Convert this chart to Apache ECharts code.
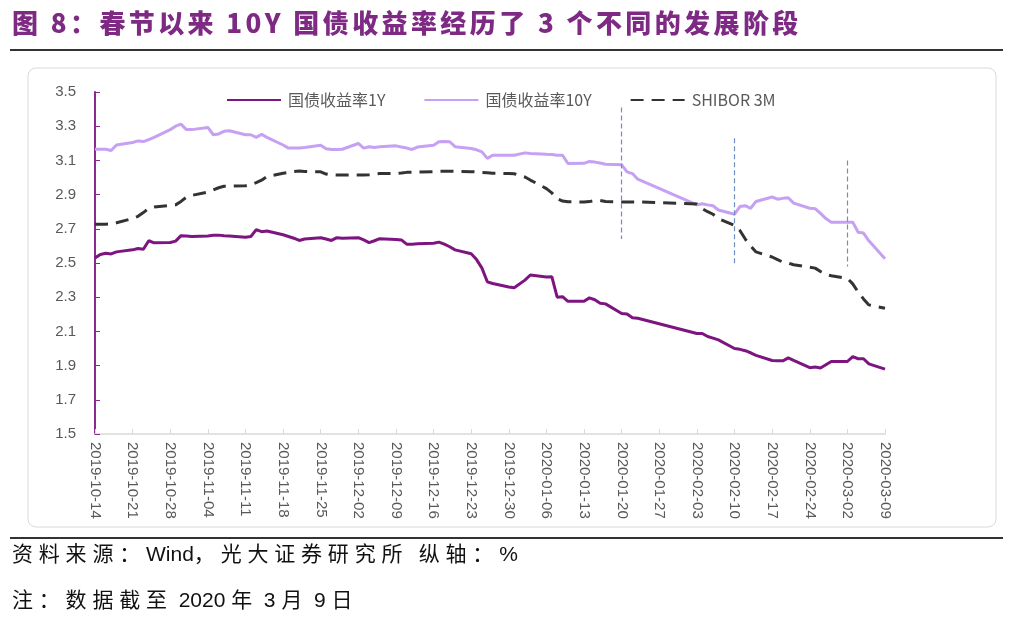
<!DOCTYPE html>
<html>
<head>
<meta charset="utf-8">
<script src="https://cdn.jsdelivr.net/npm/echarts@6/dist/echarts.min.js"></script>
<style>
  html, body { margin: 0; padding: 0; background: #fff; }
  #wrap { position: relative; width: 1015px; height: 618px; overflow: hidden; }
  #chart { position: absolute; left: 0; top: 0; width: 1015px; height: 618px; }
  .txt { position: absolute; white-space: nowrap; z-index: 2; }
  #title { left: 12px; top: 3px; font-family: "Noto Sans CJK SC", sans-serif; font-weight: 900; font-size: 26px; letter-spacing: 3.4px; color: #7e2a84; line-height: 38px; }
  #src { left: 12px; top: 537px; font-family: "Noto Sans CJK SC", "Liberation Sans", sans-serif; font-size: 21px; letter-spacing: 5.8px; color: #111; line-height: 30px; }
  #note { left: 12px; top: 583px; font-family: "Noto Sans CJK SC", "Liberation Sans", sans-serif; font-size: 21px; letter-spacing: 5.8px; color: #111; line-height: 30px; }
  .lat { font-family: "Liberation Sans", Arial, sans-serif; letter-spacing: 0; }
</style>
</head>
<body>
<div id="wrap">
  <div id="chart"></div>
  <div id="title" class="txt">图 8：春节以来 10Y 国债收益率经历了 3 个不同的发展阶段</div>
  <div id="src" class="txt">资料来源：<span class="lat">Wind</span>，光大证券研究所 纵轴：<span class="lat">%</span></div>
  <div id="note" class="txt">注：数据截至<span class="lat"> 2020 </span>年<span class="lat"> 3 </span>月<span class="lat"> 9 </span>日</div>
</div>
<script>
// ---- Data ----
const dates = [
  '2019-10-14','2019-10-15','2019-10-16','2019-10-17','2019-10-18',
  '2019-10-21','2019-10-22','2019-10-23','2019-10-24','2019-10-25',
  '2019-10-28','2019-10-29','2019-10-30','2019-10-31','2019-11-01',
  '2019-11-04','2019-11-05','2019-11-06','2019-11-07','2019-11-08',
  '2019-11-11','2019-11-12','2019-11-13','2019-11-14','2019-11-15',
  '2019-11-18','2019-11-19','2019-11-20','2019-11-21','2019-11-22',
  '2019-11-25','2019-11-26','2019-11-27','2019-11-28','2019-11-29',
  '2019-12-02','2019-12-03','2019-12-04','2019-12-05','2019-12-06',
  '2019-12-09','2019-12-10','2019-12-11','2019-12-12','2019-12-13',
  '2019-12-16','2019-12-17','2019-12-18','2019-12-19','2019-12-20',
  '2019-12-23','2019-12-24','2019-12-25','2019-12-26','2019-12-27',
  '2019-12-30','2019-12-31','2020-01-02','2020-01-03',
  '2020-01-06','2020-01-07','2020-01-08','2020-01-09','2020-01-10',
  '2020-01-13','2020-01-14','2020-01-15','2020-01-16','2020-01-17',
  '2020-01-20','2020-01-21','2020-01-22','2020-01-23',
  '2020-02-03','2020-02-04','2020-02-05','2020-02-06','2020-02-07',
  '2020-02-10','2020-02-11','2020-02-12','2020-02-13','2020-02-14',
  '2020-02-17','2020-02-18','2020-02-19','2020-02-20','2020-02-21',
  '2020-02-24','2020-02-25','2020-02-26','2020-02-27','2020-02-28',
  '2020-03-02','2020-03-03','2020-03-04','2020-03-05','2020-03-06',
  '2020-03-09'
];
const yield1Y = [
  2.53,2.55,2.557,2.553,2.565,
  2.577,2.585,2.58,2.63,2.618,
  2.62,2.628,2.66,2.658,2.655,
  2.658,2.662,2.663,2.66,2.658,
  2.65,2.655,2.695,2.683,2.687,
  2.665,2.655,2.645,2.632,2.64,
  2.648,2.64,2.632,2.648,2.645,
  2.648,2.635,2.619,2.63,2.642,
  2.638,2.635,2.61,2.61,2.612,
  2.616,2.622,2.61,2.595,2.577,
  2.554,2.52,2.47,2.39,2.38,
  2.36,2.355,2.40,2.43,
  2.418,2.42,2.30,2.303,2.276,
  2.276,2.296,2.285,2.265,2.261,
  2.205,2.202,2.18,2.177,
  2.088,2.088,2.07,2.061,2.05,
  2.0,1.995,1.987,1.975,1.96,
  1.93,1.928,1.928,1.945,1.93,
  1.888,1.892,1.886,1.905,1.924,
  1.924,1.952,1.94,1.94,1.91,
  1.879
];
const yield10Y = [
  3.165,3.165,3.165,3.158,3.19,
  3.205,3.214,3.21,3.222,3.235,
  3.28,3.30,3.312,3.28,3.28,
  3.293,3.25,3.255,3.27,3.273,
  3.25,3.25,3.235,3.252,3.235,
  3.19,3.172,3.172,3.172,3.175,
  3.188,3.168,3.164,3.164,3.165,
  3.199,3.172,3.18,3.176,3.18,
  3.185,3.178,3.172,3.164,3.178,
  3.189,3.209,3.21,3.209,3.18,
  3.17,3.162,3.15,3.112,3.13,
  3.13,3.13,3.144,3.14,
  3.136,3.135,3.13,3.13,3.082,
  3.083,3.094,3.09,3.085,3.078,
  3.074,3.033,3.023,2.99,
  2.84,2.847,2.84,2.835,2.81,
  2.785,2.83,2.835,2.82,2.86,
  2.886,2.873,2.878,2.882,2.85,
  2.82,2.818,2.79,2.76,2.739,
  2.739,2.739,2.68,2.675,2.63,
  2.525
];
const shibor3M = [
  2.726,2.726,2.727,2.728,2.735,
  2.76,2.773,2.795,2.82,2.827,
  2.837,2.84,2.86,2.885,2.895,
  2.915,2.927,2.94,2.949,2.949,
  2.952,2.958,2.97,2.984,3.005,
  3.025,3.03,3.035,3.038,3.035,
  3.033,3.02,3.015,3.014,3.014,
  3.014,3.014,3.016,3.02,3.023,
  3.023,3.026,3.03,3.03,3.032,
  3.034,3.036,3.037,3.037,3.036,
  3.034,3.033,3.03,3.028,3.025,
  3.023,3.022,3.003,2.985,
  2.935,2.91,2.876,2.862,2.858,
  2.857,2.859,2.865,2.866,2.86,
  2.857,2.857,2.857,2.857,
  2.845,2.818,2.8,2.785,2.76,
  2.72,2.69,2.64,2.6,2.565,
  2.535,2.52,2.505,2.5,2.49,
  2.475,2.47,2.45,2.433,2.425,
  2.41,2.378,2.33,2.29,2.255,
  2.235
];
const weekLabels = [
  '2019-10-14','2019-10-21','2019-10-28','2019-11-04','2019-11-11','2019-11-18',
  '2019-11-25','2019-12-02','2019-12-09','2019-12-16','2019-12-23','2019-12-30',
  '2020-01-06','2020-01-13','2020-01-20','2020-01-27','2020-02-03','2020-02-10',
  '2020-02-17','2020-02-24','2020-03-02','2020-03-09'
];
const yTicks = ['1.5','1.7','1.9','2.1','2.3','2.5','2.7','2.9','3.1','3.3','3.5'];
const seriesNames = ['国债收益率1Y','国债收益率10Y','SHIBOR 3M'];
// phase markers (vertical dashed lines)
const markerDates = ['2020-01-20','2020-02-10','2020-03-02'];
const markerTop = [3.41, 3.23, 3.10];
const markerBottom = [2.64, 2.49, 2.48];

// ---- Build ----
const DAY = 86400000;
function ts(s) { const p = s.split('-').map(Number); return Date.UTC(p[0], p[1]-1, p[2]); }
const origin = ts(weekLabels[0]);
function dayOf(s) { return Math.round((ts(s) - origin) / DAY); }
const xDays = dates.map(dayOf);
const pair = arr => arr.map((v, i) => [xDays[i], v]);
const lastDay = dayOf(weekLabels[weekLabels.length - 1]);

const markLineData = markerDates.map((d, i) => [
  { coord: [dayOf(d), markerTop[i]] },
  { coord: [dayOf(d), markerBottom[i]] }
]);

const chart = echarts.init(document.getElementById('chart'), null, { renderer: 'canvas' });
const axisFont = '"Liberation Sans", Arial, sans-serif';
chart.setOption({
  animation: false,
  backgroundColor: '#fff',
  graphic: [
    { type: 'line', shape: { x1: 10, y1: 50, x2: 1003, y2: 50 }, style: { stroke: '#333', lineWidth: 2 } },
    { type: 'rect', shape: { x: 28, y: 68, width: 968, height: 459, r: 8 }, style: { fill: 'none', stroke: '#d9d9d9', lineWidth: 1 } },
    { type: 'line', shape: { x1: 10, y1: 538, x2: 1003, y2: 538 }, style: { stroke: '#333', lineWidth: 2 } }
  ],
  legend: {
    data: seriesNames,
    left: 221, top: 87,
    itemWidth: 54, itemHeight: 14, itemGap: 38,
    itemStyle: { opacity: 0 },
    textStyle: { fontFamily: '"Noto Sans CJK SC", ' + axisFont, fontSize: 16, color: '#595959', padding: [0, 0, 0, 2] }
  },
  grid: { left: 95, top: 92, width: 790, height: 342, containLabel: false },
  xAxis: {
    type: 'value', min: 0, max: lastDay, interval: 7,
    axisLine: { show: true, lineStyle: { color: '#d9d9d9', width: 1.5 } },
    axisTick: { show: true, inside: true, length: 5, lineStyle: { color: '#d9d9d9' } },
    splitLine: { show: false },
    axisLabel: {
      rotate: -90, margin: 8, fontSize: 15, color: '#595959', fontFamily: axisFont,
      formatter: v => weekLabels[Math.round(v / 7)] || ''
    }
  },
  yAxis: {
    type: 'value', min: 1.5, max: 3.5, interval: 0.2,
    axisLine: { show: true, lineStyle: { color: '#8a2a8c', width: 2 } },
    axisTick: { show: true, inside: true, length: 5, lineStyle: { color: '#8a2a8c' } },
    splitLine: { show: false },
    axisLabel: {
      margin: 19, fontSize: 15, color: '#595959', fontFamily: axisFont,
      formatter: v => { const s = v.toFixed(1); return yTicks.indexOf(s) >= 0 ? s : ''; }
    }
  },
  series: [
    {
      name: seriesNames[0], type: 'line', data: pair(yield1Y), symbol: 'none',
      lineStyle: { color: '#7d1480', width: 3 }, itemStyle: { color: '#7d1480' }, z: 3
    },
    {
      name: seriesNames[1], type: 'line', data: pair(yield10Y), symbol: 'none',
      lineStyle: { color: '#c6a0f2', width: 3 }, itemStyle: { color: '#c6a0f2' }, z: 3,
      markLine: {
        silent: true, symbol: ['none', 'none'], label: { show: false },
        lineStyle: { color: '#6f8fc4', width: 1.2, type: [5, 3] },
        data: markLineData
      }
    },
    {
      name: seriesNames[2], type: 'line', data: pair(shibor3M), symbol: 'none',
      lineStyle: { color: '#333333', width: 3, type: [13, 8] }, itemStyle: { color: '#333333' }, z: 3
    }
  ]
});
</script>
</body>
</html>
